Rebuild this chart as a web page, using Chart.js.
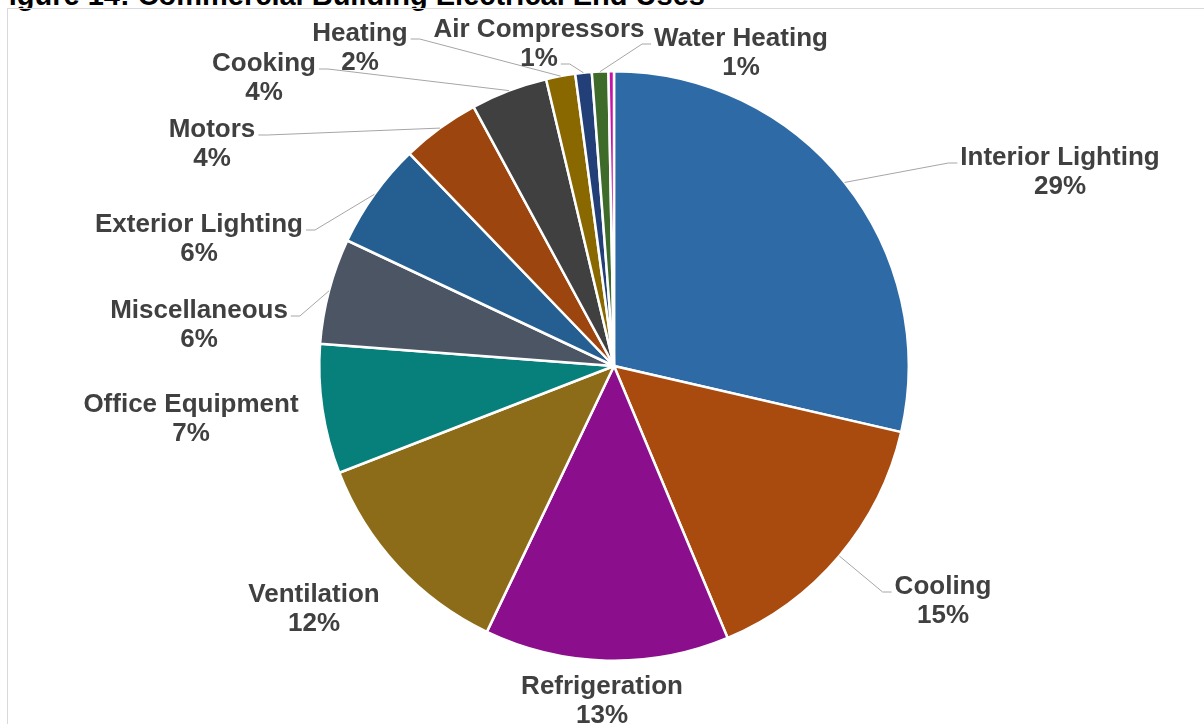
<!DOCTYPE html>
<html><head><meta charset="utf-8">
<script src="https://cdn.jsdelivr.net/npm/chart.js@4"></script>
<style>
html,body{margin:0;padding:0;background:#fff;overflow:hidden;}
#wrap{position:relative;width:1204px;height:724px;overflow:hidden;}
#title{position:absolute;left:-9px;top:-21px;font:bold 29px 'Liberation Sans',Arial,sans-serif;line-height:32px;color:#000;white-space:nowrap;}
#frame{position:absolute;left:7px;top:8px;width:1300px;height:800px;border:1px solid #d9d9d9;}
canvas{position:absolute;left:0;top:0;}
</style></head>
<body>
<div id="wrap">
<div id="title">Figure 14: Commercial Building Electrical End Uses</div>
<div id="frame"></div>
<canvas id="c" width="1204" height="724"></canvas>
</div>
<script>
const categories = ['Interior Lighting','Cooling','Refrigeration','Ventilation','Office Equipment','Miscellaneous','Exterior Lighting','Motors','Cooking','Heating','Air Compressors','Water Heating','Other'];
const shares = [28.6,15.1,13.4,12.0,7.1,5.8,5.8,4.3,4.2,1.6,0.9,0.9,0.3];
const sliceColors = ['#2E6BA6','#A94A0E','#8B0E8C','#8C6C18','#077F7B','#4B5563','#255E90','#9C450E','#404040','#8A6800','#223F78','#3F6B2A','#C512A8'];
// label placement (layout only): centre x, first baseline y, side where the leader line attaches
const labelLayout = [
  {x:1060,y:165,lead:'left'},
  {x:943,y:594,lead:'left'},
  {x:602,y:694,lead:null},
  {x:314,y:602,lead:null},
  {x:191,y:412,lead:null},
  {x:199,y:318,lead:'right'},
  {x:199,y:232,lead:'right'},
  {x:212,y:137,lead:'right'},
  {x:264,y:71,lead:'right'},
  {x:360,y:41,lead:'right'},
  {x:539,y:37,lead:'right',line:2},
  {x:741,y:46,lead:'left'},
  null
];

const labelPlugin = {
  id:'sliceLabels',
  afterDatasetsDraw(chart){
    const ctx = chart.ctx;
    const meta = chart.getDatasetMeta(0);
    const data = chart.data.datasets[0].data;
    const total = data.reduce((a,b)=>a+b,0);
    ctx.save();
    ctx.font = "bold 26px 'Liberation Sans', Arial, sans-serif";
    meta.data.forEach((arc,i)=>{
      const L = labelLayout[i]; if(!L) return;
      const p = arc.getProps(['x','y','startAngle','endAngle','outerRadius'], true);
      const mid = (p.startAngle + p.endAngle)/2;
      const px = p.x + Math.cos(mid)*p.outerRadius, py = p.y + Math.sin(mid)*p.outerRadius;
      const lines = [chart.data.labels[i], Math.round(data[i]/total*100) + '%'];
      if (L.lead){
        const li = (L.line||1) - 1;
        const w = ctx.measureText(lines[li]).width;
        const by = L.y + li*29 - 2;
        let ax, ex;
        if (L.lead === 'left'){ ax = L.x - w/2 - 3; ex = ax - 9; }
        else { ax = L.x + w/2 + 3; ex = ax + 9; }
        ctx.strokeStyle = '#a6a6a6'; ctx.lineWidth = 1;
        ctx.beginPath(); ctx.moveTo(px,py); ctx.lineTo(ex,by); ctx.lineTo(ax,by); ctx.stroke();
      }
      ctx.fillStyle = '#404040'; ctx.textAlign = 'center'; ctx.textBaseline = 'alphabetic';
      lines.forEach((t,k)=>ctx.fillText(t, L.x, L.y + k*29));
    });
    ctx.restore();
  }
};

new Chart(document.getElementById('c'), {
  type:'pie',
  data:{ labels:categories, datasets:[{ data:shares, backgroundColor:sliceColors, borderColor:'#ffffff', borderWidth:2.5 }] },
  options:{
    responsive:false, animation:false, devicePixelRatio:1,
    layout:{ padding:{ left:318, right:294, top:70, bottom:62 } },
    plugins:{ legend:{display:false}, tooltip:{enabled:false} },
    events:[]
  },
  plugins:[labelPlugin]
});
</script>
</body></html>
